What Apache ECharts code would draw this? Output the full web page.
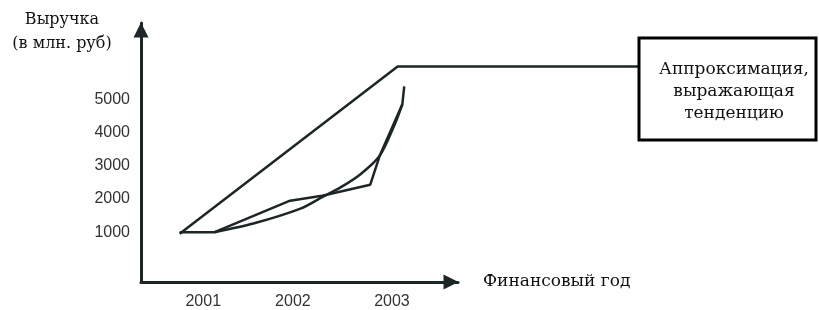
<!DOCTYPE html>
<html>
<head>
<meta charset="utf-8" />
<script src="https://cdn.jsdelivr.net/npm/echarts@6/dist/echarts.min.js"></script>
<title>Выручка</title>
<style>
  html, body { margin: 0; padding: 0; background: #fff; }
  #chart { width: 819px; height: 310px; }
</style>
</head>
<body>
<div id="chart"></div>
<script>
// подписи осей
var yTicks = [1000, 2000, 3000, 4000, 5000];
var xTicks = [2001, 2001.95, 2003];
var xTickText = ['2001', '2002', '2003'];

// фактическая выручка (ломаная)
var factX = [2000.75, 2001.12, 2001.92, 2002.26, 2002.77, 2002.87, 2003.11, 2003.13];
var factY = [1000, 1000, 1950, 2100, 2430, 3300, 4850, 5390];

// гладкая кривая
var curveX = [2001.12, 2001.53, 2002.03, 2002.27, 2002.45, 2002.66, 2002.87, 2003.03, 2003.11];
var curveY = [1000, 1260, 1710, 2070, 2340, 2730, 3300, 4250, 4850];

// прямая аппроксимация + выноска к рамке
var trendX = [2000.75, 2003.06, 2005.62];
var trendY = [1000, 6000, 6000];

function pairs(xs, ys) {
    var out = [];
    for (var i = 0; i < xs.length; i++) out.push([xs[i], ys[i]]);
    return out;
}

var ink = '#1d2626';
var serif = 'DejaVu Serif';
var axisArrow = {
    show: true,
    onZero: false,
    symbol: ['none', 'triangle'],
    symbolSize: [15, 15],
    symbolOffset: [0, -7],
    lineStyle: { color: ink, width: 3 }
};

var myChart = echarts.init(document.getElementById('chart'));
var option = {
    backgroundColor: '#fff',
    animation: false,
    grid: [
        { left: 141, top: 23, width: 317, height: 261 },
        // тот же масштаб, но шире — для выноски к рамке
        { left: 141, top: 23, width: 499, height: 261 }
    ],
    xAxis: [
        {
            type: 'value', gridIndex: 0,
            min: 2000.34, max: 2003.7,
            name: 'Финансовый год',
            nameLocation: 'end',
            nameGap: 25,
            nameTextStyle: { fontFamily: serif, fontSize: 17, color: '#111' },
            splitLine: { show: false },
            axisTick: { show: false },
            axisLine: axisArrow,
            axisLabel: {
                customValues: xTicks,
                margin: 12,
                fontFamily: 'Liberation Sans',
                fontSize: 16,
                color: '#333',
                formatter: function (v) {
                    var i = xTicks.indexOf(v);
                    return i >= 0 ? xTickText[i] : '';
                }
            }
        },
        {
            type: 'value', gridIndex: 1, show: false,
            min: 2000.34, max: 2005.629
        }
    ],
    yAxis: [
        {
            type: 'value', gridIndex: 0,
            min: -500, max: 7300,
            splitLine: { show: false },
            axisTick: { show: false },
            axisLine: axisArrow,
            axisLabel: {
                customValues: yTicks,
                margin: 11,
                fontFamily: 'Liberation Sans',
                fontSize: 16,
                color: '#333',
                formatter: function (v) { return String(v); }
            }
        },
        {
            type: 'value', gridIndex: 1, show: false,
            min: -500, max: 7300
        }
    ],
    graphic: [
        {
            type: 'text', x: 62, y: 8,
            style: {
                text: 'Выручка\n(в млн. руб)',
                fontFamily: serif, fontSize: 16, lineHeight: 24,
                fill: '#111', align: 'center'
            }
        },
        {
            type: 'rect', z: 10,
            shape: { x: 639, y: 38, width: 177, height: 102 },
            style: { fill: '#fff', stroke: '#000', lineWidth: 3 }
        },
        {
            type: 'text', z: 11, x: 734, y: 59,
            style: {
                text: 'Аппроксимация,\nвыражающая\nтенденцию',
                fontFamily: serif, fontSize: 17, lineHeight: 22,
                fill: '#111', align: 'center'
            }
        }
    ],
    series: [
        {
            type: 'line',
            xAxisIndex: 1, yAxisIndex: 1,
            data: pairs(trendX, trendY),
            symbol: 'none',
            lineStyle: { color: ink, width: 2.5 }
        },
        {
            type: 'line',
            data: pairs(factX, factY),
            symbol: 'none',
            lineStyle: { color: ink, width: 2.5 }
        },
        {
            type: 'line',
            data: pairs(curveX, curveY),
            smooth: 0.3,
            symbol: 'none',
            lineStyle: { color: ink, width: 2.5 }
        }
    ]
};
myChart.setOption(option);
</script>
</body>
</html>
